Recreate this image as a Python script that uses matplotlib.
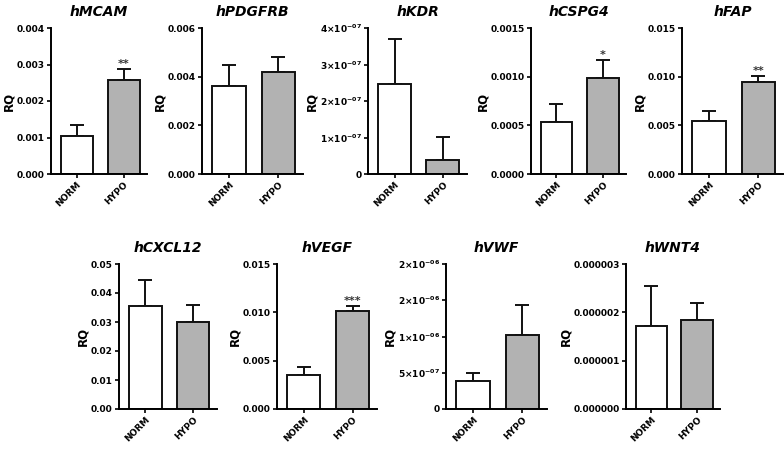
import matplotlib
matplotlib.use("Agg")
import matplotlib.pyplot as plt

plt.rcParams["font.family"] = ["DejaVu Sans"]
plt.rcParams["font.weight"] = "bold"
plt.rcParams["mathtext.default"] = "bf"

groups = ["NORM", "HYPO"]
genes = ["hMCAM", "hPDGFRB", "hKDR", "hCSPG4", "hFAP",
         "hCXCL12", "hVEGF", "hVWF", "hWNT4"]
norm_vals = [0.00105, 0.0036, 2.47e-7, 0.00053, 0.0054, 0.0354, 0.00355, 3.9e-7, 1.72e-6]
norm_err = [0.0003, 0.00086, 1.23e-7, 0.00019, 0.0011, 0.009, 0.00075, 1.0e-7, 0.83e-6]
hypo_vals = [0.00258, 0.0042, 0.37e-7, 0.00099, 0.0095, 0.030, 0.0101, 1.02e-6, 1.84e-6]
hypo_err = [0.00029, 0.0006, 0.65e-7, 0.00018, 0.0006, 0.006, 0.0006, 0.41e-6, 0.36e-6]
stars = ["**", "", "", "*", "**", "", "***", "", ""]
yticks = [
    [0, 0.001, 0.002, 0.003, 0.004],
    [0, 0.002, 0.004, 0.006],
    [0, 1e-7, 2e-7, 3e-7, 4e-7],
    [0, 0.0005, 0.0010, 0.0015],
    [0, 0.005, 0.010, 0.015],
    [0, 0.01, 0.02, 0.03, 0.04, 0.05],
    [0, 0.005, 0.010, 0.015],
    [0, 5e-7, 1e-6, 1.5e-6, 2e-6],
    [0, 1e-6, 2e-6, 3e-6],
]
ytick_labels = [
    ["0.000", "0.001", "0.002", "0.003", "0.004"],
    ["0.000", "0.002", "0.004", "0.006"],
    ["0", r"1$\times$10$^{-07}$", r"2$\times$10$^{-07}$", r"3$\times$10$^{-07}$", r"4$\times$10$^{-07}$"],
    ["0.0000", "0.0005", "0.0010", "0.0015"],
    ["0.000", "0.005", "0.010", "0.015"],
    ["0.00", "0.01", "0.02", "0.03", "0.04", "0.05"],
    ["0.000", "0.005", "0.010", "0.015"],
    ["0", r"5$\times$10$^{-07}$", r"1$\times$10$^{-06}$", r"2$\times$10$^{-06}$", r"2$\times$10$^{-06}$"],
    ["0.000000", "0.000001", "0.000002", "0.000003"],
]

# axes boxes in pixels: left spine x, right end x, top y, bottom y
boxes = [
    (51, 147, 28, 174), (202, 303, 28, 174), (368, 467, 28, 174),
    (531, 626, 28, 174), (682, 783, 28, 174),
    (119, 217, 264, 409), (277, 377, 264, 409), (446, 547, 264, 409),
    (626, 720, 264, 409),
]

W, H = 784, 449
fig = plt.figure(figsize=(W / 100, H / 100), dpi=100)

for i, gene in enumerate(genes):
    x0, x1, y0, y1 = boxes[i]
    ax = fig.add_axes([x0 / W, (H - y1) / H, (x1 - x0) / W, (y1 - y0) / H])
    vals = [norm_vals[i], hypo_vals[i]]
    errs = [norm_err[i], hypo_err[i]]
    ax.bar([0, 1], vals, width=0.68, color=["white", "#b2b2b2"],
           edgecolor="#111111", linewidth=1.4, zorder=2)
    ax.errorbar([0, 1], vals, yerr=[[0, 0], errs], fmt="none",
                ecolor="#111111", elinewidth=1.4, capsize=5, capthick=1.4, zorder=1)
    if stars[i]:
        ax.text(1, vals[1] + errs[1], stars[i], ha="center", va="bottom",
                fontsize=8, color="#333333")
    ax.set_xlim(-0.55, 1.5)
    ax.set_ylim(0, yticks[i][-1])
    ax.set_yticks(yticks[i])
    ax.set_yticklabels(ytick_labels[i], fontsize=6.5, fontweight="bold")
    ax.set_xticks([0, 1])
    ax.set_xticklabels(groups, rotation=45, ha="right", rotation_mode="anchor",
                       fontsize=6.5, fontweight="bold")
    ax.spines["top"].set_visible(False)
    ax.spines["right"].set_visible(False)
    ax.spines["left"].set_linewidth(1.4)
    ax.spines["bottom"].set_linewidth(1.4)
    ax.tick_params(axis="both", width=1.2, length=3, direction="out", pad=1.5)
    ax.set_ylabel("RQ", fontsize=8.5, fontweight="bold", labelpad=1)
    ax.set_title(gene, fontsize=10, fontweight="bold", style="italic", pad=9)

fig.savefig("out.png", dpi=100)
